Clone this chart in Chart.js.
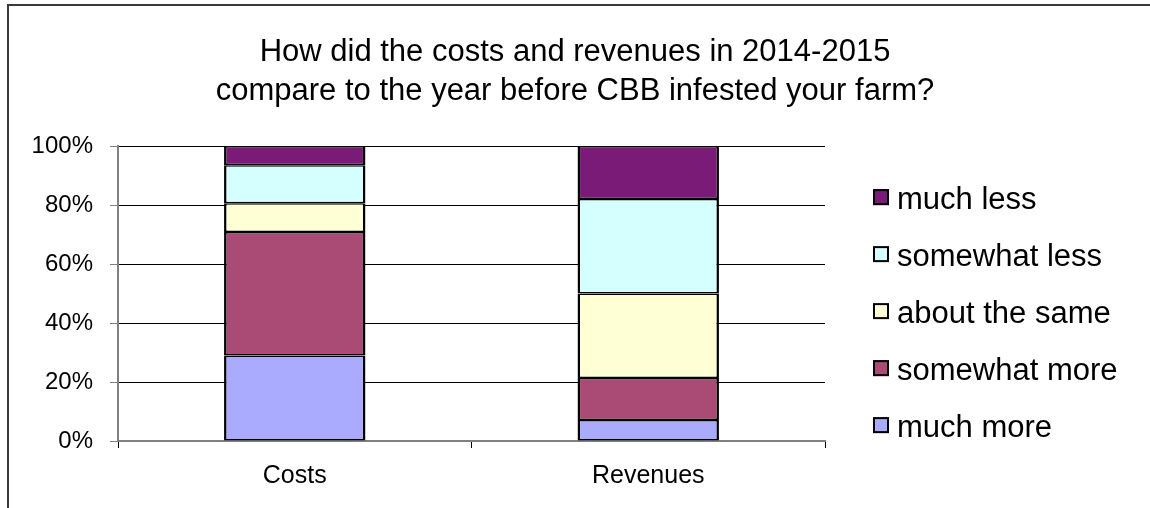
<!DOCTYPE html>
<html>
<head>
<meta charset="utf-8">
<script src="https://cdn.jsdelivr.net/npm/chart.js@4/dist/chart.umd.min.js"></script>
<style>
  html, body { margin: 0; padding: 0; background: #fff; width: 1150px; height: 508px; overflow: hidden; }
  #frame { position: absolute; left: 7px; top: 4px; width: 1200px; height: 600px; border-left: 2px solid #3a3a3a; border-top: 2px solid #3a3a3a; }
  #wrap { position: absolute; left: 0; top: 0; width: 1150px; height: 508px; }
</style>
</head>
<body>
<div id="frame"></div>
<div id="wrap"><canvas id="c" width="1150" height="508"></canvas></div>
<script>
const titleLines = ["How did the costs and revenues in 2014-2015", "compare to the year before CBB infested your farm?"];
const categories = ["Costs", "Revenues"];
const seriesNames = ["much more", "somewhat more", "about the same", "somewhat less", "much less"];
const muchMore = [29.0, 7.1];
const somewhatMore = [41.9, 14.3];
const aboutSame = [9.7, 28.6];
const somewhatLess = [12.9, 32.1];
const muchLess = [6.5, 17.9];
const yTicks = [0, 20, 40, 60, 80, 100];
const seriesColors = ["#AAAAFF", "#AA4B76", "#FFFFD5", "#D5FFFF", "#7B1B78"];

const FONT = "'Liberation Sans', Arial, sans-serif";
const seriesValues = [muchMore, somewhatMore, aboutSame, somewhatLess, muchLess];

const datasets = seriesNames.map((name, i) => ({
  label: name,
  data: seriesValues[i],
  backgroundColor: seriesColors[i],
  borderColor: "#000",
  borderWidth: { top: 1.5, bottom: 1.5, left: 2.5, right: 2.5 },
  borderSkipped: false,
  categoryPercentage: 1.0,
  barPercentage: 0.4
}));

const legendPlugin = {
  id: "sideLegend",
  afterDraw(chart) {
    const ctx = chart.ctx;
    const area = chart.chartArea;
    const ds = chart.data.datasets;
    const x0 = area.right + 48;
    const size = 16;
    const step = 57;
    ctx.save();
    ctx.font = "31px " + FONT;
    ctx.textAlign = "left";
    ctx.textBaseline = "alphabetic";
    for (let k = 0; k < ds.length; k++) {
      const d = ds[ds.length - 1 - k];
      const yTop = area.top + 43 + k * step;
      ctx.fillStyle = d.backgroundColor;
      ctx.fillRect(x0, yTop, size, size);
      ctx.strokeStyle = "#000";
      ctx.lineWidth = 2;
      ctx.strokeRect(x0 + 1, yTop + 1, size - 2, size - 2);
      ctx.fillStyle = "#000";
      ctx.fillText(d.label, x0 + 24, yTop + 20);
    }
    ctx.restore();
  }
};

new Chart(document.getElementById("c"), {
  type: "bar",
  data: { labels: categories, datasets: datasets },
  plugins: [legendPlugin],
  options: {
    responsive: false,
    animation: false,
    devicePixelRatio: 1,
    layout: { padding: { left: 0, right: 0, top: 0, bottom: 4 } },
    plugins: {
      legend: { display: false },
      tooltip: { enabled: false },
      title: {
        display: true,
        text: titleLines,
        color: "#000",
        font: { family: FONT, size: 31, weight: "normal", lineHeight: 1.26 },
        padding: { top: 33, bottom: 35 }
      }
    },
    scales: {
      x: {
        stacked: true,
        offset: true,
        grid: { display: true, drawOnChartArea: false, drawTicks: true, tickLength: 7, color: "#000", offset: true },
        border: { display: true, color: "#808080", width: 2 },
        ticks: { color: "#000", font: { family: FONT, size: 25 }, padding: 13 }
      },
      y: {
        stacked: true,
        min: 0,
        max: 100,
        afterFit(s) { s.width = 118; },
        afterBuildTicks(s) { s.ticks = yTicks.map(v => ({ value: v })); },
        grid: { color: "#000", lineWidth: 1, tickLength: 8, tickColor: "#808080" },
        border: { display: true, color: "#808080", width: 2 },
        ticks: { color: "#000", font: { family: FONT, size: 24 }, padding: 17, callback: v => v + "%" }
      },
      side: {
        type: "linear",
        position: "right",
        display: true,
        afterFit(s) { s.width = 325; },
        grid: { display: false },
        border: { display: false },
        ticks: { display: false }
      }
    }
  }
});
</script>
</body>
</html>
